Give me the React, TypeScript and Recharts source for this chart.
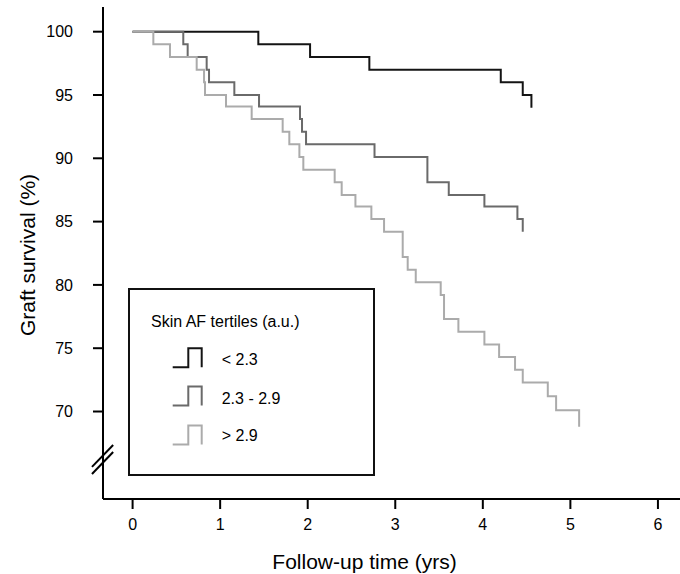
import { LineChart, Line, XAxis, YAxis, ReferenceLine } from "recharts"

// Kaplan-Meier steps, one group per skin AF tertile
const lowTimes = [0, 1.436, 2.027, 2.704, 4.205, 4.456, 4.555]
const lowSurv = [100, 99, 98, 97, 96, 95, 94]

const midTimes = [
  0, 0.579, 0.629, 0.846, 0.873, 1.162, 1.444, 1.912, 1.935, 1.981, 2.763,
  3.367, 3.611, 4.018, 4.395, 4.456,
]
const midSurv = [
  100, 99, 98, 97, 96, 95, 94.1, 93.1, 92.1, 91.1, 90.1, 88.1, 87.1, 86.2,
  85.2, 84.2,
]

const highTimes = [
  0, 0.237, 0.427, 0.732, 0.816, 0.827, 1.067, 1.36, 1.714, 1.79, 1.905, 1.95,
  2.308, 2.388, 2.545, 2.727, 2.872, 3.085, 3.142, 3.234, 3.519, 3.557, 3.721,
  4.018, 4.186, 4.368, 4.456, 4.742, 4.837, 5.1,
]
const highSurv = [
  100, 99, 98, 97, 96, 95, 94.1, 93.1, 92.1, 91.1, 90.1, 89.1, 88.1, 87.1,
  86.2, 85.2, 84.2, 82.2, 81.2, 80.2, 79.2, 77.3, 76.3, 75.3, 74.3, 73.3, 72.3,
  71.2, 70.1, 68.8,
]

const groupLabels = ["< 2.3", "2.3 - 2.9", "> 2.9"]
const xTicks = [0, 1, 2, 3, 4, 5, 6]
const yTicks = [70, 75, 80, 85, 90, 95, 100]

const COLORS = ["#141414", "#6a6a6a", "#ababab"]
const FONT = "'Liberation Sans', Arial, sans-serif"

const toSeries = (times: number[], surv: number[]) =>
  times.map((t, i) => ({ t, s: surv[i] }))

const groups = [
  toSeries(lowTimes, lowSurv),
  toSeries(midTimes, midSurv),
  toSeries(highTimes, highSurv),
]

// two slashes marking the broken y axis (data coords, drawn outside the plot)
const breakMarks = [
  [
    { x: -0.464, y: 65.06 },
    { x: -0.222, y: 66.8 },
  ],
  [
    { x: -0.464, y: 65.63 },
    { x: -0.222, y: 67.35 },
  ],
]

export default function App() {
  const tick = { fill: "#000", fontSize: 16, fontFamily: FONT }
  const axisStroke = { stroke: "#000", strokeWidth: 2 }

  return (
    <div style={{ position: "absolute", left: 0, top: 0, width: 680, height: 574, background: "#fff" }}>
      <LineChart
        width={680}
        height={574}
        margin={{ top: 7, right: 0, bottom: 0, left: 0 }}
      >
        <XAxis
          dataKey="t"
          type="number"
          domain={[-0.338, 6.252]}
          allowDataOverflow
          ticks={xTicks}
          height={75}
          tick={tick}
          tickSize={10}
          tickMargin={10}
          axisLine={axisStroke}
          tickLine={axisStroke}
        />
        <YAxis
          type="number"
          domain={[63.09, 101.95]}
          allowDataOverflow
          ticks={yTicks}
          width={103}
          tick={tick}
          tickSize={10}
          tickMargin={20}
          axisLine={axisStroke}
          tickLine={axisStroke}
        />
        {breakMarks.map((seg, i) => (
          <ReferenceLine
            key={i}
            segment={seg}
            ifOverflow="visible"
            stroke="#000"
            strokeWidth={2}
          />
        ))}
        {groups.map((data, i) => (
          <Line
            key={groupLabels[i]}
            data={data}
            dataKey="s"
            type="stepAfter"
            stroke={COLORS[i]}
            strokeWidth={2}
            dot={false}
            activeDot={false}
            isAnimationActive={false}
          />
        ))}
      </LineChart>
      <svg
        width={680}
        height={574}
        style={{ position: "absolute", left: 0, top: 0, pointerEvents: "none" }}
      >
        <text
          x={35}
          y={255}
          transform="rotate(-90 35 255)"
          textAnchor="middle"
          fontSize={21}
          fontFamily={FONT}
          fill="#000"
        >
          Graft survival (%)
        </text>
        <text
          x={364.5}
          y={569}
          textAnchor="middle"
          fontSize={21}
          fontFamily={FONT}
          fill="#000"
        >
          Follow-up time (yrs)
        </text>
        <rect
          x={129}
          y={289}
          width={245}
          height={186}
          fill="#fff"
          stroke="#111"
          strokeWidth={2}
        />
        <text x={151} y={327} fontSize={16} fontFamily={FONT} fill="#000">
          Skin AF tertiles (a.u.)
        </text>
        {groupLabels.map((label, i) => {
          const top = [348.3, 386.5, 425.5][i]
          const base = [364.7, 404, 440.5][i]
          return (
            <g key={label}>
              <path
                d={`M172.7 ${top + 19} H188.3 V${top} H201.7 V${top + 19}`}
                fill="none"
                stroke={COLORS[i]}
                strokeWidth={2}
              />
              <text x={221.7} y={base} fontSize={16} fontFamily={FONT} fill="#000">
                {label}
              </text>
            </g>
          )
        })}
      </svg>
    </div>
  )
}
